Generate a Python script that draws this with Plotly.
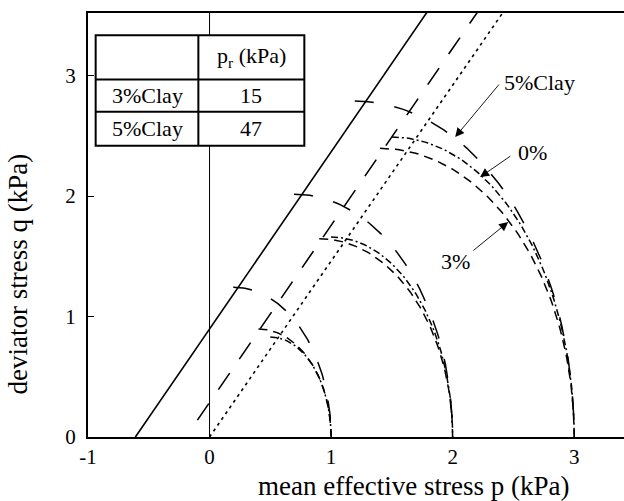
import numpy as np
import plotly.graph_objects as go

# ---------------- data ----------------
p0_values = [1, 2, 3]                 # isotropic yield stress of each surface (kPa)
clay_labels = ["0%", "3%", "5%"]
line_shift = [0.0, -0.195, -0.61]     # p where each critical-state line meets q = 0
line_slope = [1.46, 1.47, 1.47]       # slope M of each line
line_start_q = [0.0, 0.14, 0.0]       # q where each drawn line starts
cap_shape = [1.66, 1.50, 1.545]       # aspect ratio of each yield cap
table_rows = ["3%Clay", "5%Clay"]
pr_values = [15, 47]
x_ticks = [-1, 0, 1, 2, 3]
y_ticks = [0, 1, 2, 3]
x_range = [-1, 3.41]
y_range = [0, 3.52]

FONT = "'Liberation Serif', 'Times New Roman', Times, serif"
line_dash = ["3px,4px", "20px,17px", "solid"]
cap_dash = ["7px,3px,2px,3px", "9px,6px", "19px,21px"]

fig = go.Figure()

# critical-state lines
for k in range(3):
    qs = np.array([line_start_q[k], 3.7])
    ps = line_shift[k] + qs / line_slope[k]
    fig.add_trace(go.Scatter(x=ps, y=qs, mode="lines",
                             line=dict(color="black", width=1.6, dash=line_dash[k]),
                             hoverinfo="skip", showlegend=False))

# yield caps (upper right quarter of shifted ellipses)
t = np.linspace(0, np.pi / 2, 80)
for k in range(3):
    for p0 in p0_values:
        c = (p0 + line_shift[k]) / 2
        r = (p0 - line_shift[k]) / 2
        ps = c + r * np.cos(t)
        qs = cap_shape[k] * r * np.sin(t)
        fig.add_trace(go.Scatter(x=ps[::-1], y=qs[::-1], mode="lines",
                                 line=dict(color="black", width=1.5, dash=cap_dash[k]),
                                 hoverinfo="skip", showlegend=False))

shapes = []
# vertical line at p = 0
shapes.append(dict(type="line", xref="x", yref="paper", x0=0, x1=0, y0=0, y1=1,
                   line=dict(color="black", width=1), layer="below"))
# table
tx = [-0.937, -0.092, 0.780]
ty = [3.336, 2.968, 2.700, 2.417]
shapes.append(dict(type="rect", xref="x", yref="y", x0=tx[0], x1=tx[2], y0=ty[3], y1=ty[0],
                   fillcolor="white", line=dict(color="black", width=2), layer="above"))
shapes.append(dict(type="line", xref="x", yref="y", x0=tx[1], x1=tx[1], y0=ty[3], y1=ty[0],
                   line=dict(color="black", width=2), layer="above"))
for yy in ty[1:3]:
    shapes.append(dict(type="line", xref="x", yref="y", x0=tx[0], x1=tx[2], y0=yy, y1=yy,
                       line=dict(color="black", width=2), layer="above"))

annotations = []
fnt = dict(family=FONT, size=22, color="black")
annotations.append(dict(x=(tx[1] + tx[2]) / 2, y=(ty[0] + ty[1]) / 2, xref="x", yref="y",
                        text="p<sub>r</sub> (kPa)", showarrow=False, font=fnt))
for i, name in enumerate(table_rows):
    yc = (ty[i + 1] + ty[i + 2]) / 2
    annotations.append(dict(x=(tx[0] + tx[1]) / 2, y=yc, xref="x", yref="y",
                            text=name, showarrow=False, font=fnt))
    annotations.append(dict(x=(tx[1] + tx[2]) / 2, y=yc, xref="x", yref="y",
                            text=str(pr_values[i]), showarrow=False, font=fnt))

# labelled arrows
arrow_labels = ["5%Clay", "0%", "3%"]
arrow_tip = [(2.021, 2.49), (2.226, 2.158), (2.457, 1.784)]
arrow_tail = [(2.391, 2.938), (2.487, 2.340), (2.158, 1.538)]
label_pos = [(2.712, 2.946), (2.654, 2.365), (2.021, 1.461)]
for lab, tip, tail, pos in zip(arrow_labels, arrow_tip, arrow_tail, label_pos):
    annotations.append(dict(x=tip[0], y=tip[1], ax=tail[0], ay=tail[1], xref="x", yref="y",
                            axref="x", ayref="y", text="", showarrow=True,
                            arrowhead=2, arrowsize=2.0, arrowwidth=0.9, arrowcolor="black"))
    annotations.append(dict(x=pos[0], y=pos[1], xref="x", yref="y", text=lab,
                            showarrow=False, font=fnt))

# axis titles
annotations.append(dict(x=0.608, y=-0.115, xref="paper", yref="paper",
                        text="mean effective stress p (kPa)", showarrow=False,
                        xanchor="center", yanchor="middle",
                        font=dict(family=FONT, size=27, color="black")))
annotations.append(dict(x=-0.131, y=0.385, xref="paper", yref="paper",
                        text="deviator stress q (kPa)", showarrow=False, textangle=-90,
                        xanchor="center", yanchor="middle",
                        font=dict(family=FONT, size=27, color="black")))

fig.update_layout(
    width=624, height=501,
    margin=dict(l=88, r=0, t=13, b=64),
    paper_bgcolor="white", plot_bgcolor="white",
    font=dict(family=FONT, size=21, color="black"),
    shapes=shapes, annotations=annotations,
    xaxis=dict(range=x_range, tickvals=x_ticks, ticktext=[str(v) for v in x_ticks],
               showgrid=False, zeroline=False, showline=True, linecolor="black",
               linewidth=2, mirror=True, ticks="inside", ticklen=6, tickcolor="black",
               tickfont=dict(family=FONT, size=21, color="black")),
    yaxis=dict(range=y_range, tickvals=y_ticks, ticktext=[str(v) for v in y_ticks],
               showgrid=False, zeroline=False, showline=True, linecolor="black",
               linewidth=2, mirror=False, ticks="inside", ticklen=6, tickcolor="black",
               ticklabelstandoff=6,
               tickfont=dict(family=FONT, size=21, color="black")),
)

fig.write_html("out.html")
